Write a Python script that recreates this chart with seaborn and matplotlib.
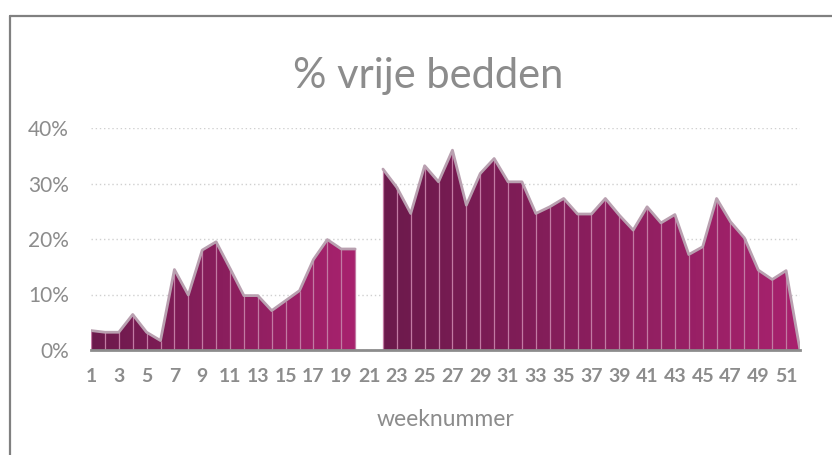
import numpy as np
import pandas as pd
import matplotlib
matplotlib.use("Agg")
import matplotlib.pyplot as plt
from matplotlib.colors import LinearSegmentedColormap
from matplotlib.lines import Line2D
from matplotlib.ticker import PercentFormatter
import seaborn as sns

# percentage free beds per week (week 21 has no data)
weeks = list(range(1, 53))
vrij = [3.5, 3.2, 3.2, 6.4, 3.2, 1.7, 14.5, 9.9, 18.0, 19.5,
        14.7, 9.8, 9.8, 7.1, 8.9, 10.7, 16.3, 19.9, 18.2, 18.2,
        np.nan, 32.6, 29.3, 24.6, 33.2, 30.3, 36.0, 26.1, 31.8, 34.5,
        30.3, 30.3, 24.6, 25.8, 27.3, 24.5, 24.5, 27.3, 24.3, 21.6,
        25.8, 22.9, 24.4, 17.2, 18.6, 27.3, 23.1, 20.2, 14.4, 12.7,
        14.3, 0.0]
xticks = list(range(1, 53, 2))
yticks = [0, 0.1, 0.2, 0.3, 0.4]

grey = "#8c8c8c"
cmap = LinearSegmentedColormap.from_list("paars", ["#6c1a4c", "#a8226e"])

sns.set_style("white")
plt.rcParams['font.family'] = ['Lato', 'DejaVu Sans']

df = pd.DataFrame({'week': weeks, 'vrij': np.array(vrij) / 100})
df['seg'] = df['vrij'].isna().cumsum()
df = df.dropna()

fig = plt.figure(figsize=(8.32, 4.55), dpi=100)
ax = fig.add_axes([91 / 832, 105 / 455, 709 / 832, 222 / 455])

for seg, part in df.groupby('seg'):
    x = part['week'].to_numpy()
    y = part['vrij'].to_numpy()
    poly = ax.fill_between(x, 0, y, facecolor='none', edgecolor='none')
    grad = np.linspace(0, 1, 256).reshape(1, -1)
    im = ax.imshow(grad, extent=[x.min(), x.max(), 0, 0.4], cmap=cmap,
                   aspect='auto', origin='lower', zorder=2)
    im.set_clip_path(poly.get_paths()[0], transform=ax.transData)
    ax.vlines(x, 0, y, color='#c27aa3', lw=0.9, zorder=3)
    sns.lineplot(data=part, x='week', y='vrij', ax=ax, color='#b9a0b0',
                 lw=2, zorder=4)

ax.set_xlim(1, 52)
ax.set_ylim(0, 0.4)
ax.set_xticks(xticks)
ax.set_yticks(yticks)
ax.yaxis.set_major_formatter(PercentFormatter(1, decimals=0))
ax.grid(axis='y', color='#d0d0d0', ls=(0, (1, 2)), lw=1)
ax.set_axisbelow(True)
for s in ['top', 'right', 'left']:
    ax.spines[s].set_visible(False)
ax.spines['bottom'].set_color(grey)
ax.spines['bottom'].set_linewidth(2)
ax.spines['bottom'].set_zorder(5)
ax.tick_params(axis='x', length=0, pad=13, labelsize=14, labelcolor=grey)
ax.tick_params(axis='y', length=0, pad=16, labelsize=15, labelcolor=grey)
for t in ax.get_xticklabels():
    t.set_fontweight('bold')
ax.set_xlabel('')
ax.set_ylabel('')

fig.text(428 / 832, 1 - 88 / 455, '% vrije bedden', ha='center', va='baseline',
         fontsize=30, color=grey)
fig.text(445.5 / 832, 1 - 420 / 455, 'weeknummer', ha='center', va='center',
         fontsize=16.5, color=grey)

# chart border (only top and left are visible in the crop)
fig.add_artist(Line2D([9.5 / 832, 1], [1 - 16 / 455, 1 - 16 / 455],
                      color='#808080', lw=1.6, transform=fig.transFigure))
fig.add_artist(Line2D([9.5 / 832, 9.5 / 832], [0, 1 - 16 / 455],
                      color='#808080', lw=1.6, transform=fig.transFigure))

fig.savefig('out.png', dpi=100)
